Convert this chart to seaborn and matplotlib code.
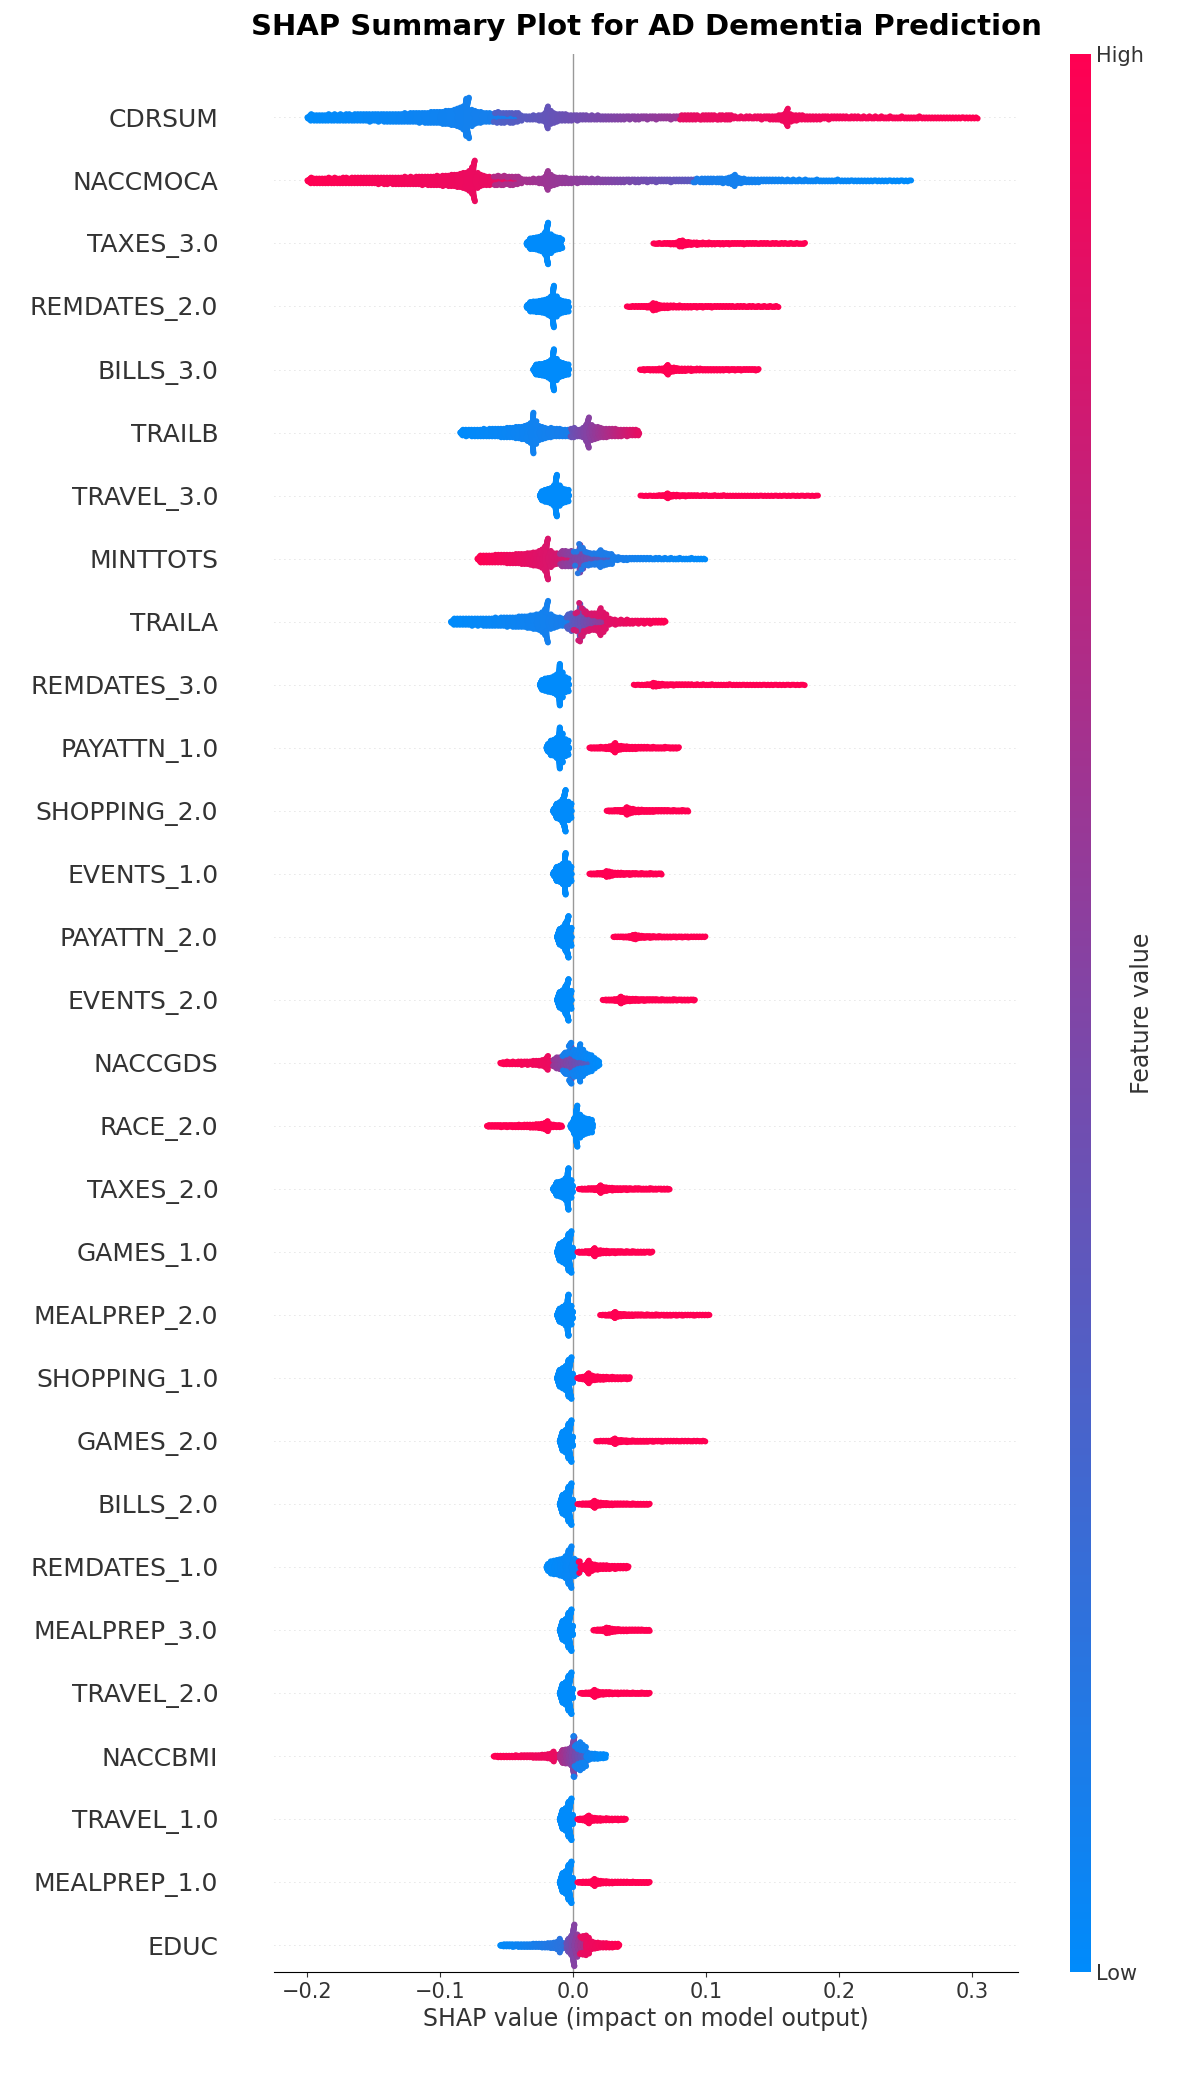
import numpy as np
import pandas as pd
import matplotlib
matplotlib.use("Agg")
import matplotlib.pyplot as plt
import seaborn as sns
from matplotlib.colors import LinearSegmentedColormap, Normalize

features = ["CDRSUM", "NACCMOCA", "TAXES_3.0", "REMDATES_2.0", "BILLS_3.0", "TRAILB",
            "TRAVEL_3.0", "MINTTOTS", "TRAILA", "REMDATES_3.0", "PAYATTN_1.0",
            "SHOPPING_2.0", "EVENTS_1.0", "PAYATTN_2.0", "EVENTS_2.0", "NACCGDS",
            "RACE_2.0", "TAXES_2.0", "GAMES_1.0", "MEALPREP_2.0", "SHOPPING_1.0",
            "GAMES_2.0", "BILLS_2.0", "REMDATES_1.0", "MEALPREP_3.0", "TRAVEL_2.0",
            "NACCBMI", "TRAVEL_1.0", "MEALPREP_1.0", "EDUC"]

# clusters: (lo, peak, hi, count, feature value at lo, at hi)
segments = [
    [(-0.2, -0.08, -0.04, 700, 0, 0.1), (-0.06, -0.02, 0.12, 350, 0.3, 0.7), (0.08, 0.16, 0.305, 300, 0.9, 1)],
    [(-0.2, -0.075, -0.04, 700, 1, 0.9), (-0.06, -0.02, 0.12, 350, 0.7, 0.3), (0.09, 0.12, 0.255, 200, 0.1, 0)],
    [(-0.035, -0.02, -0.008, 400, 0, 0), (0.06, 0.08, 0.175, 200, 1, 1)],
    [(-0.035, -0.015, -0.003, 400, 0, 0), (0.04, 0.06, 0.155, 200, 1, 1)],
    [(-0.03, -0.015, -0.003, 400, 0, 0), (0.05, 0.07, 0.14, 200, 1, 1)],
    [(-0.085, -0.03, 0.0, 450, 0, 0.1), (-0.002, 0.01, 0.05, 250, 0.4, 0.9)],
    [(-0.025, -0.013, -0.003, 400, 0, 0), (0.05, 0.07, 0.185, 150, 1, 1)],
    [(-0.072, -0.02, 0.0, 500, 1, 0.8), (-0.01, 0.005, 0.03, 250, 0.6, 0.3), (0.0, 0.02, 0.1, 150, 0.15, 0)],
    [(-0.092, -0.02, 0.0, 450, 0, 0.1), (-0.005, 0.005, 0.025, 200, 0.3, 0.6), (0.0, 0.02, 0.07, 150, 0.8, 1)],
    [(-0.025, -0.01, -0.003, 400, 0, 0), (0.045, 0.06, 0.175, 150, 1, 1)],
    [(-0.02, -0.01, -0.003, 350, 0, 0), (0.012, 0.03, 0.08, 180, 1, 1)],
    [(-0.015, -0.007, -0.001, 350, 0, 0), (0.025, 0.04, 0.087, 180, 1, 1)],
    [(-0.015, -0.006, -0.001, 350, 0, 0), (0.012, 0.025, 0.067, 150, 1, 1)],
    [(-0.012, -0.005, -0.001, 350, 0, 0), (0.03, 0.045, 0.1, 150, 1, 1)],
    [(-0.012, -0.005, -0.001, 350, 0, 0), (0.022, 0.035, 0.092, 180, 1, 1)],
    [(-0.055, -0.02, -0.005, 150, 1, 0.9), (-0.015, -0.002, 0.015, 250, 0.6, 0.3), (-0.008, 0.005, 0.02, 200, 0.1, 0)],
    [(-0.065, -0.02, -0.008, 200, 1, 1), (-0.002, 0.002, 0.015, 350, 0, 0)],
    [(-0.015, -0.004, 0.0, 350, 0, 0), (0.004, 0.02, 0.073, 180, 1, 1)],
    [(-0.012, -0.003, 0.0, 350, 0, 0), (0.003, 0.015, 0.06, 150, 1, 1)],
    [(-0.012, -0.004, 0.0, 350, 0, 0), (0.02, 0.03, 0.103, 180, 1, 1)],
    [(-0.012, -0.003, 0.0, 350, 0, 0), (0.003, 0.01, 0.043, 150, 1, 1)],
    [(-0.01, -0.003, 0.0, 350, 0, 0), (0.017, 0.03, 0.1, 150, 1, 1)],
    [(-0.01, -0.003, 0.0, 350, 0, 0), (0.003, 0.015, 0.058, 150, 1, 1)],
    [(-0.02, -0.003, 0.005, 350, 0, 0.05), (0.004, 0.01, 0.042, 130, 1, 1)],
    [(-0.01, -0.003, 0.0, 350, 0, 0), (0.015, 0.025, 0.058, 130, 1, 1)],
    [(-0.01, -0.003, 0.0, 350, 0, 0), (0.005, 0.015, 0.058, 150, 1, 1)],
    [(-0.06, -0.015, -0.005, 150, 1, 0.9), (-0.01, 0.0, 0.01, 300, 0.7, 0.3), (0.0, 0.005, 0.025, 150, 0.1, 0)],
    [(-0.01, -0.003, 0.0, 350, 0, 0), (0.003, 0.01, 0.04, 130, 1, 1)],
    [(-0.01, -0.003, 0.0, 350, 0, 0), (0.003, 0.015, 0.058, 150, 1, 1)],
    [(-0.055, -0.01, 0.0, 200, 0, 0.2), (-0.005, 0.0, 0.01, 250, 0.4, 0.7), (0.005, 0.01, 0.035, 150, 0.9, 1)],
]


def peaked_quantiles(lo, peak, hi, n):
    # cusp-shaped spread: dense at the peak, thin tails to lo and hi
    p = np.linspace(0.5 / n, 1 - 0.5 / n, n)
    fc = (peak - lo) / (hi - lo)
    left = peak - (peak - lo) * (1 - p / fc) ** 1.6
    right = peak + (hi - peak) * ((p - fc) / (1 - fc)) ** 1.6
    return np.where(p < fc, left, right)


rows = []
for i, (name, segs) in enumerate(zip(features, segments)):
    xs, vs = [], []
    for lo, peak, hi, n, v0, v1 in segs:
        x = peaked_quantiles(lo, peak, hi, n)
        xs.append(x)
        vs.append(v0 + (v1 - v0) * (x - lo) / (hi - lo))
    x = np.concatenate(xs)
    v = np.concatenate(vs)
    # beeswarm stacking
    bins = np.round(x / 0.0022).astype(int)
    off = np.zeros(len(x))
    counts = {}
    for j, b in enumerate(bins):
        k = counts.get(b, 0)
        counts[b] = k + 1
        off[j] = ((k + 1) // 2) * (1 if k % 2 else -1)
    off = off * 0.33 / max(np.abs(off).max(), 1)
    rows.append(pd.DataFrame({"shap": x, "y": i + off, "val": v}))

df = pd.concat(rows, ignore_index=True)

cmap = LinearSegmentedColormap.from_list("shap", ["#008bfb", "#ff0052"])
norm = Normalize(0, 1)

fig = plt.figure(figsize=(11.91, 20.91), dpi=100)
ax = fig.add_axes([0.23, 0.057, 0.625, 0.917])
for i in range(len(features)):
    ax.axhline(i, color="#cccccc", lw=0.6, dashes=(1, 5), zorder=0)
ax.axvline(0, color="#999999", lw=1, zorder=1)
sns.scatterplot(data=df, x="shap", y="y", hue="val", palette=cmap, hue_norm=norm,
                s=18, linewidth=0, legend=False, ax=ax, zorder=2, rasterized=True)

ax.set_ylim(len(features) - 0.58, -1)
ax.set_xlim(-0.225, 0.335)
ax.set_yticks(range(len(features)))
ax.set_yticklabels(features, fontsize=18, color="#333333")
ax.tick_params(axis="y", length=0, pad=40)
ax.set_xticks([-0.2, -0.1, 0.0, 0.1, 0.2, 0.3])
ax.set_xticklabels(["\u22120.2", "\u22120.1", "0.0", "0.1", "0.2", "0.3"])
ax.tick_params(axis="x", labelsize=15, colors="#333333")
ax.set_xlabel("SHAP value (impact on model output)", fontsize=17, color="#333333")
ax.set_ylabel("")
for s in ["top", "right", "left"]:
    ax.spines[s].set_visible(False)
ax.set_title("SHAP Summary Plot for AD Dementia Prediction", fontsize=21,
             fontweight="bold", pad=14)

cax = fig.add_axes([0.898, 0.057, 0.018, 0.917])
cb = fig.colorbar(plt.cm.ScalarMappable(norm=norm, cmap=cmap), cax=cax)
cb.outline.set_visible(False)
cb.set_ticks([0, 1])
cb.set_ticklabels(["Low", "High"])
cb.ax.tick_params(labelsize=15, length=0, colors="#333333")
cb.set_label("Feature value", fontsize=17, labelpad=-10, color="#333333")

fig.savefig("out.png", dpi=100)
